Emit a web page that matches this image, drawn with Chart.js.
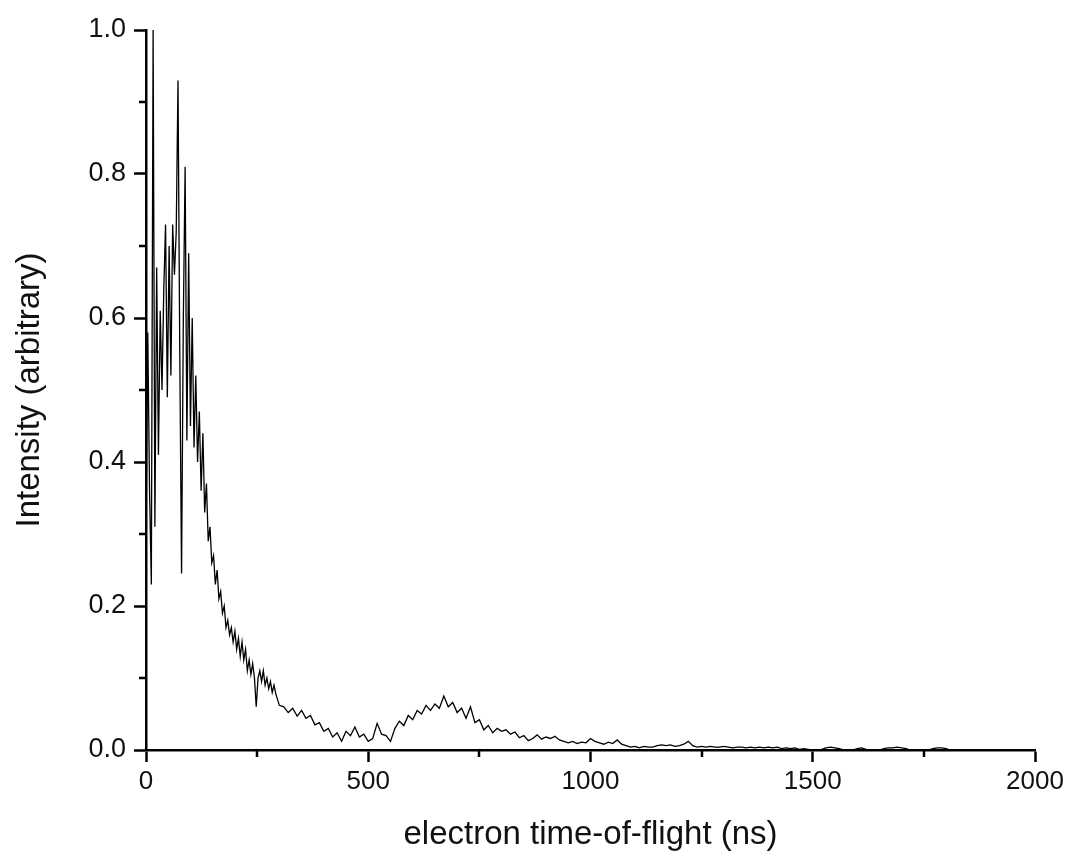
<!DOCTYPE html>
<html>
<head>
<meta charset="utf-8">
<script src="https://cdn.jsdelivr.net/npm/chart.js@4/dist/chart.umd.min.js"></script>
<style>
  html, body { margin: 0; padding: 0; background: #fff; }
  canvas { display: block; }
</style>
</head>
<body>
<canvas id="tofChart" width="1071" height="857"></canvas>
<script>
const timeNs = [
  0, 4, 8, 12, 16, 20, 24, 28, 32, 36, 40, 44, 48, 52, 56, 60, 64, 68, 72, 76,
  80, 84, 88, 92, 96, 100, 104, 108, 112, 116, 120, 124, 128, 132, 136, 140, 144, 148, 152, 156,
  160, 164, 168, 172, 176, 180, 184, 188, 192, 196, 200, 204, 208, 212, 216, 220, 224, 228, 232, 236,
  240, 244, 248, 252, 256, 260, 264, 268, 272, 276, 280, 284, 288, 292, 296, 300,
  310, 320, 330, 340, 350, 360, 370, 380, 390, 400, 410, 420, 430, 440, 450, 460, 470, 480, 490, 500,
  510, 520, 530, 540, 550, 560, 570, 580, 590, 600, 610, 620, 630, 640, 650, 660, 670, 680, 690, 700,
  710, 720, 730, 740, 750, 760, 770, 780, 790, 800, 810, 820, 830, 840, 850, 860, 870, 880, 890, 900,
  910, 920, 930, 940, 950, 960, 970, 980, 990, 1000, 1010, 1020, 1030, 1040, 1050, 1060, 1070, 1080, 1090, 1100,
  1110, 1120, 1130, 1140, 1150, 1160, 1170, 1180, 1190, 1200, 1210, 1220, 1230, 1240, 1250, 1260, 1270, 1280, 1290, 1300,
  1310, 1320, 1330, 1340, 1350, 1360, 1370, 1380, 1390, 1400, 1410, 1420, 1430, 1440, 1450, 1460, 1470, 1480, 1490, 1500,
  1510, 1520, 1530, 1540, 1550, 1560, 1570, 1580, 1590, 1600, 1610, 1620, 1630, 1640, 1650, 1660, 1670, 1680, 1690, 1700,
  1710, 1720, 1730, 1740, 1750, 1760, 1770, 1780, 1790, 1800, 1810
];
const intensity = [
  0.29, 0.58, 0.36, 0.23, 1.00, 0.31, 0.67, 0.41, 0.61, 0.50, 0.64, 0.73, 0.49, 0.70, 0.52, 0.73, 0.66, 0.72, 0.93, 0.55,
  0.245, 0.60, 0.81, 0.43, 0.69, 0.45, 0.60, 0.42, 0.52, 0.40, 0.47, 0.36, 0.44, 0.33, 0.37, 0.29, 0.31, 0.26, 0.27, 0.23,
  0.25, 0.21, 0.22, 0.19, 0.20, 0.17, 0.18, 0.16, 0.17, 0.15, 0.165, 0.14, 0.155, 0.13, 0.15, 0.125, 0.14, 0.11, 0.125, 0.105,
  0.12, 0.10, 0.06, 0.10, 0.11, 0.095, 0.11, 0.09, 0.10, 0.085, 0.095, 0.08, 0.09, 0.078, 0.07, 0.062,
  0.060, 0.052, 0.058, 0.047, 0.055, 0.044, 0.048, 0.035, 0.038, 0.026, 0.030, 0.018, 0.024, 0.012, 0.026, 0.020, 0.032, 0.018, 0.022, 0.012,
  0.016, 0.037, 0.022, 0.020, 0.012, 0.030, 0.040, 0.034, 0.048, 0.042, 0.055, 0.050, 0.062, 0.055, 0.064, 0.058, 0.075, 0.060, 0.066, 0.052,
  0.058, 0.044, 0.060, 0.038, 0.042, 0.028, 0.034, 0.024, 0.030, 0.026, 0.028, 0.022, 0.025, 0.017, 0.020, 0.013, 0.016, 0.021, 0.015, 0.018,
  0.016, 0.019, 0.014, 0.012, 0.010, 0.012, 0.009, 0.011, 0.010, 0.016, 0.012, 0.010, 0.008, 0.011, 0.009, 0.014, 0.008, 0.006, 0.004, 0.005,
  0.003, 0.005, 0.004, 0.004, 0.006, 0.007, 0.006, 0.007, 0.005, 0.006, 0.008, 0.012, 0.006, 0.004, 0.005, 0.004, 0.005, 0.004, 0.004, 0.005,
  0.004, 0.003, 0.004, 0.004, 0.003, 0.004, 0.003, 0.004, 0.003, 0.004, 0.003, 0.004, 0.002, 0.003, 0.002, 0.003, 0.001, 0.002, 0.001, 0.0,
  0.0, 0.001, 0.003, 0.004, 0.003, 0.002, 0.0, 0.0, 0.0, 0.002, 0.003, 0.001, 0.0, 0.0, 0.0, 0.002, 0.003, 0.003, 0.004, 0.003,
  0.002, 0.0, 0.0, 0.0, 0.0, 0.0, 0.002, 0.003, 0.003, 0.002, 0.0
];
const xMajorTicks = [0, 500, 1000, 1500, 2000];
const xMinorTicks = [250, 750, 1250, 1750];
const yMajorTicks = [0.0, 0.2, 0.4, 0.6, 0.8, 1.0];
const yMinorTicks = [0.1, 0.3, 0.5, 0.7, 0.9];

const FONT = 'Liberation Sans, Arial, sans-serif';

// short outward ticks between the labelled ones
const minorTicks = {
  id: 'minorTicks',
  afterDraw(chart) {
    const ctx = chart.ctx;
    const xs = chart.scales.x, ys = chart.scales.y;
    const area = chart.chartArea;
    ctx.save();
    ctx.strokeStyle = '#000';
    ctx.lineWidth = 2.5;
    ctx.beginPath();
    xMinorTicks.forEach(function (v) {
      const px = Math.round(xs.getPixelForValue(v));
      ctx.moveTo(px, area.bottom);
      ctx.lineTo(px, area.bottom + 7);
    });
    yMinorTicks.forEach(function (v) {
      const py = Math.round(ys.getPixelForValue(v));
      ctx.moveTo(area.left, py);
      ctx.lineTo(area.left - 7, py);
    });
    ctx.stroke();
    ctx.restore();
  }
};

let points = [];
for (let i = 0; i < timeNs.length; i++) {
  points.push({ x: timeNs[i], y: intensity[i] });
}

new Chart(document.getElementById('tofChart'), {
  type: 'line',
  data: {
    datasets: [
      {
        data: points,
        borderColor: '#000',
        borderWidth: 1.3,
        pointRadius: 0,
        tension: 0,
        fill: false,
      },
    ],
  },
  options: {
    responsive: false,
    animation: false,
    devicePixelRatio: 1,
    layout: { padding: { top: 30, right: 36, left: 0, bottom: 0 } },
    plugins: { legend: { display: false }, tooltip: { enabled: false } },
    scales: {
      x: {
        type: 'linear',
        min: 0,
        max: 2000,
        afterBuildTicks(scale) {
          scale.ticks = xMajorTicks.map(function (v) { return { value: v }; });
        },
        afterFit(scale) { scale.height = 107; },
        border: { display: true, color: '#000', width: 2.5 },
        grid: { drawOnChartArea: false, drawTicks: true, tickLength: 12, tickWidth: 2.5, tickColor: '#000' },
        ticks: {
          color: '#111',
          padding: 4,
          maxRotation: 0,
          font: { family: FONT, size: 26 },
          callback: function (v) { return String(v); },
        },
        title: {
          display: true,
          text: 'electron time-of-flight (ns)',
          color: '#111',
          font: { family: FONT, size: 33 },
          padding: { top: 4, bottom: 2 },
        },
      },
      y: {
        type: 'linear',
        min: 0,
        max: 1,
        afterBuildTicks(scale) {
          scale.ticks = yMajorTicks.map(function (v) { return { value: v }; });
        },
        afterFit(scale) { scale.width = 146; },
        border: { display: true, color: '#000', width: 2.5 },
        grid: { drawOnChartArea: false, drawTicks: true, tickLength: 12, tickWidth: 2.5, tickColor: '#000' },
        ticks: {
          color: '#111',
          padding: 8,
          font: { family: FONT, size: 27 },
          callback: function (v) { return Number(v).toFixed(1); },
        },
        title: {
          display: true,
          text: 'Intensity (arbitrary)',
          color: '#111',
          font: { family: FONT, size: 33 },
          padding: { top: 10, bottom: 6 },
        },
      },
    },
  },
  plugins: [minorTicks],
});
</script>
</body>
</html>
